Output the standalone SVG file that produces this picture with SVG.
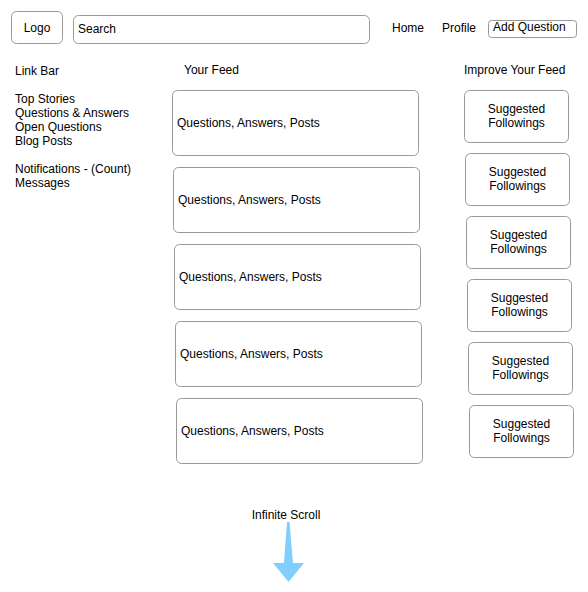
<svg xmlns="http://www.w3.org/2000/svg" width="588" height="592" viewBox="0 0 588 592">
<style>
text{font-family:"Liberation Sans",Arial,sans-serif;font-size:12px;fill:#000}
.box{fill:#fff;stroke:#999;stroke-width:1}
.c{text-anchor:middle}
</style>
<rect width="588" height="592" fill="#fff"/>
<g id="logo"><rect class="box" x="11.5" y="11.5" width="51" height="32" rx="5"/><text class="c" x="37" y="32">Logo</text></g>
<g id="search"><rect class="box" x="73.5" y="15.5" width="296" height="28" rx="5"/><text x="78" y="33">Search</text></g>
<g id="home"><text x="392" y="32">Home</text></g>
<g id="profile"><text x="442" y="32">Profile</text></g>
<g id="add-question"><rect class="box" x="488.5" y="20.5" width="88" height="17" rx="3"/><text x="493" y="31">Add Question</text></g>
<g id="linkbar"><text x="15" y="75">Link Bar</text>
<text x="15" y="103">Top Stories</text>
<text x="15" y="117">Questions &amp; Answers</text>
<text x="15" y="131">Open Questions</text>
<text x="15" y="145">Blog Posts</text>
<text x="15" y="173">Notifications - (Count)</text>
<text x="15" y="187">Messages</text></g>
<g id="your-feed"><text x="184" y="74">Your Feed</text></g>
<g id="improve-feed"><text x="464" y="74">Improve Your Feed</text></g>
<g id="feed1"><rect class="box" x="172.5" y="90.5" width="246" height="65" rx="5"/><text x="177" y="127">Questions, Answers, Posts</text></g>
<g id="feed2"><rect class="box" x="173.5" y="167.5" width="246" height="65" rx="5"/><text x="178" y="204">Questions, Answers, Posts</text></g>
<g id="feed3"><rect class="box" x="174.5" y="244.5" width="246" height="65" rx="5"/><text x="179" y="281">Questions, Answers, Posts</text></g>
<g id="feed4"><rect class="box" x="175.5" y="321.5" width="246" height="65" rx="5"/><text x="180" y="358">Questions, Answers, Posts</text></g>
<g id="feed5"><rect class="box" x="176.5" y="398.5" width="246" height="65" rx="5"/><text x="181" y="435">Questions, Answers, Posts</text></g>
<g id="sugg1"><rect class="box" x="464.5" y="90.5" width="104" height="52" rx="5"/><text class="c" x="516.5" y="113">Suggested</text><text class="c" x="516.5" y="127">Followings</text></g>
<g id="sugg2"><rect class="box" x="465.5" y="153.5" width="104" height="52" rx="5"/><text class="c" x="517.5" y="176">Suggested</text><text class="c" x="517.5" y="190">Followings</text></g>
<g id="sugg3"><rect class="box" x="466.5" y="216.5" width="104" height="52" rx="5"/><text class="c" x="518.5" y="239">Suggested</text><text class="c" x="518.5" y="253">Followings</text></g>
<g id="sugg4"><rect class="box" x="467.5" y="279.5" width="104" height="52" rx="5"/><text class="c" x="519.5" y="302">Suggested</text><text class="c" x="519.5" y="316">Followings</text></g>
<g id="sugg5"><rect class="box" x="468.5" y="342.5" width="104" height="52" rx="5"/><text class="c" x="520.5" y="365">Suggested</text><text class="c" x="520.5" y="379">Followings</text></g>
<g id="sugg6"><rect class="box" x="469.5" y="405.5" width="104" height="52" rx="5"/><text class="c" x="521.5" y="428">Suggested</text><text class="c" x="521.5" y="442">Followings</text></g>
<g id="infinite-scroll"><text class="c" x="286" y="519">Infinite Scroll</text></g>
<g id="connectors"><polygon points="287,522 289.5,522 293,563 304,563 288.5,582 273,563 284,563" fill="#80cfff"/></g>
</svg>
